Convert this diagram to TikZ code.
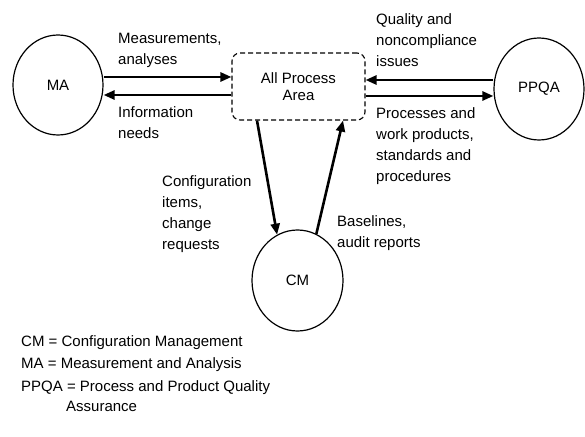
\documentclass[tikz,border=0pt]{standalone}
\usepackage{fontspec}
\setmainfont{Liberation Sans}
\usetikzlibrary{arrows.meta,shapes.geometric}

\begin{document}
\begin{tikzpicture}[>={Triangle[length=11bp,width=9bp]},line join=bevel,
  area/.style={ellipse,draw,line width=1.2bp,inner sep=0pt,font=\fontsize{15bp}{18bp}\selectfont},
  flow/.style={->,line width=2.6bp},
  lbl/.style={anchor=north west,align=left,inner sep=0pt,font=\fontsize{15bp}{21bp}\selectfont}]
  \useasboundingbox (0bp,0bp) rectangle (585bp,437bp);
  % Node: MA
  \node[area,minimum width=90bp,minimum height=100bp] (ma) at (58bp,352bp) {MA};
  % Node: PPQA
  \node[area,minimum width=90bp,minimum height=102bp] (ppqa) at (539bp,348bp) {PPQA};
  % Node: CM
  \node[area,minimum width=91bp,minimum height=101bp] (cm) at (297.5bp,156.5bp) {CM};
  % Node: all process area
  \node[draw,line width=1.1bp,dash pattern=on 5bp off 3bp,rounded corners=8bp,
        minimum width=133bp,minimum height=67bp,align=center,
        font=\fontsize{15bp}{17bp}\selectfont] (apa) at (298.5bp,350.5bp) {All Process\\Area};
  % Edge: MA -> apa
  \draw[flow] ([yshift=9.5bp]apa.west -| ma.east) -- ([yshift=9.5bp]apa.west);
  \node[lbl] (ma-out) at (118bp,404bp) {Measurements,\\analyses};
  % Edge: apa -> MA
  \draw[flow] ([yshift=-8.5bp]apa.west) -- ([yshift=-8.5bp]apa.west -| ma.east);
  \node[lbl] (ma-in) at (118bp,331bp) {Information\\needs};
  % Edge: PPQA -> apa
  \draw[flow] ([yshift=6.5bp]apa.east -| ppqa.west) -- ([yshift=6.5bp]apa.east);
  \node[lbl] (ppqa-out) at (376bp,424bp) {Quality and\\noncompliance\\issues};
  % Edge: apa -> PPQA
  \draw[flow] ([yshift=-9.5bp]apa.east) -- ([yshift=-9.5bp]apa.east -| ppqa.west);
  \node[lbl] (ppqa-in) at (376bp,330bp) {Processes and\\work products,\\standards and\\procedures};
  % Edge: apa -> CM
  \draw[flow] ([xshift=-41.5bp]apa.south) -- (cm.114);
  \node[lbl] (cm-in) at (162bp,262bp) {Configuration\\items,\\change\\requests};
  % Edge: CM -> apa
  \draw[flow] (cm.68) -- ([xshift=44.5bp]apa.south);
  \node[lbl] (cm-out) at (337bp,222bp) {Baselines,\\audit reports};
  % Key
  \node[lbl] (cm-key) at (21bp,102bp) {CM = Configuration Management};
  \node[lbl] (ma-key) at (21bp,80bp) {MA = Measurement and Analysis};
  \node[lbl,font=\fontsize{15bp}{20bp}\selectfont] (ppqa-key) at (21bp,57bp) {PPQA = Process and Product Quality\\\hspace*{45bp}Assurance};
%
\end{tikzpicture}
\end{document}
